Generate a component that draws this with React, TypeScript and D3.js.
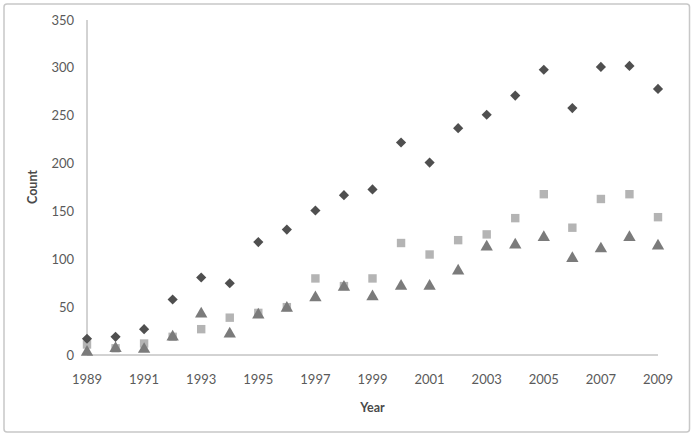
import React from 'react';
import * as d3 from 'd3';

const years = d3.range(1989, 2010);
const diamondValues = [17, 19, 27, 58, 81, 75, 118, 131, 151, 167, 173, 222, 201, 237, 251, 271, 298, 258, 301, 302, 278];
const squareValues = [11, 7, 12, 19, 27, 39, 44, 50, 80, 72, 80, 117, 105, 120, 126, 143, 168, 133, 163, 168, 144];
const triangleValues = [4, 8, 7, 20, 44, 23, 43, 50, 61, 72, 62, 73, 73, 89, 114, 116, 124, 102, 112, 124, 115];
const yTicks = [0, 50, 100, 150, 200, 250, 300, 350];
const xTicks = d3.range(1989, 2010, 2);

const W = 697;
const H = 438;
const margin = { top: 20, right: 39, bottom: 83, left: 87 };

const App: React.FC = () => {
  const x = d3.scaleLinear().domain([1989, 2009]).range([margin.left, W - margin.right]);
  const y = d3.scaleLinear().domain([0, 350]).range([H - margin.bottom, margin.top]);

  const diamond = d3.symbol().type(d3.symbolDiamond2).size(66)();
  const square = d3.symbol().type(d3.symbolSquare2).size(90)();
  const triangle = d3.symbol().type(d3.symbolTriangle).size(66)();

  const font = 'Lato, "Open Sans", "DejaVu Sans", sans-serif';

  const series = [
    { values: squareValues, path: square, color: '#b4b4b4', dy: 0 },
    { values: triangleValues, path: triangle, color: '#7b7b7b', dy: 1 },
    { values: diamondValues, path: diamond, color: '#4f4f4f', dy: 0 },
  ];

  return (
    <svg width={W} height={H} style={{ position: 'absolute', left: 0, top: 0, background: '#fff' }}>
      <rect x={4} y={4} width={685.5} height={428} rx={3} fill="#fff" stroke="#c8c8c8" strokeWidth={1.5} />

      {/* axes */}
      <line x1={x(1989)} x2={x(1989)} y1={y(350)} y2={y(0)} stroke="#a6a6a6" strokeWidth={1} />
      <line x1={x(1989)} x2={x(2009)} y1={y(0)} y2={y(0)} stroke="#a6a6a6" strokeWidth={1} />

      {yTicks.map(t => (
        <text key={t} x={74} y={y(t)} dy="0.35em" textAnchor="end" fontSize={13} fill="#5a5a5a" fontFamily={font}>
          {t}
        </text>
      ))}
      {xTicks.map(t => (
        <text key={t} x={x(t)} y={379} dy="0.35em" textAnchor="middle" fontSize={13} fill="#5a5a5a" fontFamily={font}>
          {t}
        </text>
      ))}

      <text x={x(1999)} y={408} dy="0.35em" textAnchor="middle" fontSize={12.5} fontWeight="bold" fill="#4a4a4a" fontFamily={font}>
        Year
      </text>
      <text transform={`translate(33,187) rotate(-90)`} dy="0.35em" textAnchor="middle" fontSize={12.5} fontWeight="bold" fill="#4a4a4a" fontFamily={font}>
        Count
      </text>

      {series.map((s, si) => (
        <g key={si}>
          {s.values.map((v, i) => (
            <path
              key={i}
              d={s.path || ''}
              transform={`translate(${x(years[i])},${y(v) + s.dy})`}
              fill={s.color}
            />
          ))}
        </g>
      ))}
    </svg>
  );
};

export default App;
